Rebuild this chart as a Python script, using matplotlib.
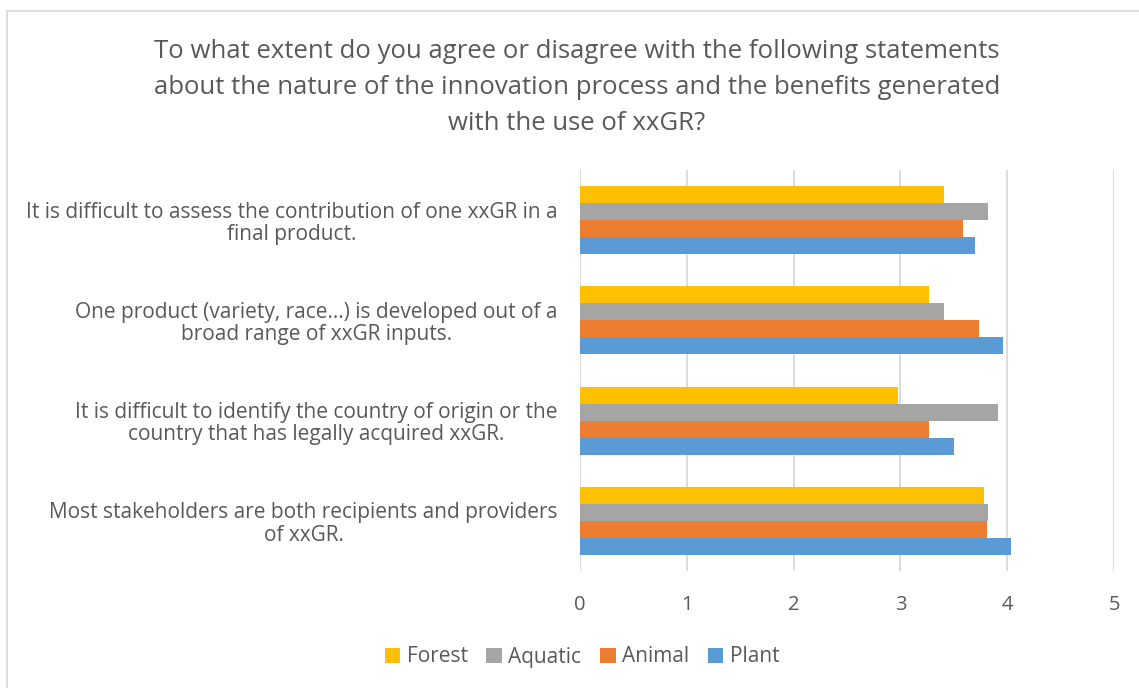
import matplotlib
matplotlib.use("Agg")
import matplotlib.pyplot as plt
from matplotlib.patches import Patch
from matplotlib.lines import Line2D
import numpy as np

plt.rcParams['font.family'] = ['Open Sans', 'DejaVu Sans']

title = ("To what extent do you agree or disagree with the following statements\n"
         "about the nature of the innovation process and the benefits generated\n"
         "with the use of xxGR?")

categories = [
    "It is difficult to assess the contribution of one xxGR in a\nfinal product.",
    "One product (variety, race\u2026) is developed out of a\nbroad range of xxGR inputs.",
    "It is difficult to identify the country of origin or the\ncountry that has legally acquired xxGR.",
    "Most stakeholders are both recipients and providers\nof xxGR.",
]
series = ["Forest", "Aquatic", "Animal", "Plant"]
forest = [3.41, 3.27, 2.98, 3.78]
aquatic = [3.82, 3.41, 3.91, 3.82]
animal = [3.59, 3.74, 3.27, 3.81]
plant = [3.70, 3.96, 3.50, 4.04]
colors = ["#FFC000", "#A5A5A5", "#ED7D31", "#5B9BD5"]
xticks = [0, 1, 2, 3, 4, 5]

W, H = 1139, 688
fig = plt.figure(figsize=(W / 100, H / 100), dpi=100)
ax = fig.add_axes([580 / W, 1 - 571 / H, 534 / W, 401 / H])

text_col = "#595959"
bh = 0.17
y = np.arange(len(categories))
for i, (vals, c) in enumerate(zip([forest, aquatic, animal, plant], colors)):
    ax.barh(y + (i - 1.5) * bh, vals, height=bh, color=c, zorder=3)

ax.set_xlim(0, 5)
ax.set_ylim(3.5, -0.5)
ax.set_xticks(xticks)
ax.set_yticks(y)
ax.set_yticklabels(categories, fontsize=15, color=text_col)
for lbl in ax.get_yticklabels():
    lbl.set_multialignment('center')
    lbl.set_linespacing(1.08)
ax.tick_params(axis='y', length=0, pad=16)
ax.tick_params(axis='x', length=0, pad=17, labelsize=14.5, labelcolor=text_col)
ax.grid(axis='x', color="#D9D9D9", linewidth=1.3, zorder=0)
for s in ax.spines.values():
    s.set_visible(False)

fig.text(577 / W, 1 - 87.5 / H, title, ha='center', va='center', fontsize=18.5,
         color=text_col, linespacing=1.6)

handles = [Patch(facecolor=c, edgecolor='none') for c in colors]
fig.legend(handles, series, loc='center', bbox_to_anchor=(582 / W, 1 - 657 / H),
           ncol=4, frameon=False, fontsize=15, labelcolor=text_col,
           handlelength=0.75, handleheight=0.75, handletextpad=0.3, columnspacing=0.9)

# chart area border
fig.add_artist(Line2D([6.5 / W, 6.5 / W], [0, 1 - 10.5 / H], color="#D9D9D9", linewidth=1.3))
fig.add_artist(Line2D([6.5 / W, 1], [1 - 10.5 / H, 1 - 10.5 / H], color="#D9D9D9", linewidth=1.3))

fig.savefig("out.png", dpi=100, facecolor="white")
